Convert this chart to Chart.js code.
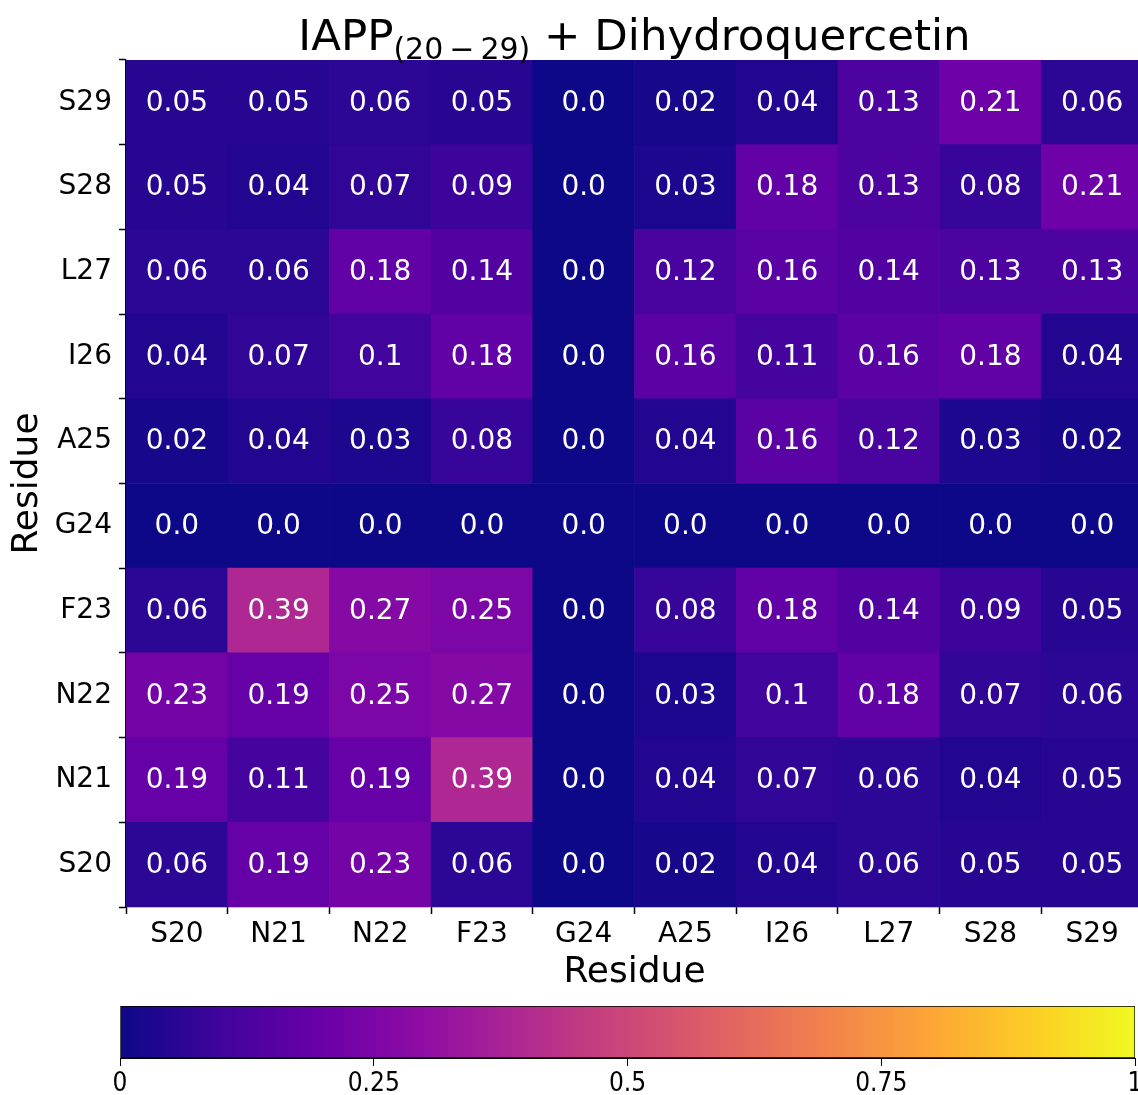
<!DOCTYPE html>
<html>
<head>
<meta charset="utf-8">
<script src="https://cdn.jsdelivr.net/npm/chart.js@4.4.0/dist/chart.umd.min.js"></script>
<style>
  html, body { margin: 0; padding: 0; background: #fff; overflow: hidden; }
  #wrap { position: relative; width: 1138px; height: 1095px; overflow: hidden; }
  #heatmap { position: absolute; left: 0; top: 0; }
  #colorbar { position: absolute; left: 0; top: 990px; }
</style>
</head>
<body>
<div id="wrap">
  <canvas id="heatmap" width="1150" height="1000"></canvas>
  <canvas id="colorbar" width="1150" height="105"></canvas>
</div>
<script>
// residues along both axes (bottom -> top on y)
const residues = ["S20", "N21", "N22", "F23", "G24", "A25", "I26", "L27", "S28", "S29"];

// one row per residue on the y axis, columns follow `residues`
const rowS20 = [0.06, 0.19, 0.23, 0.06, 0.0, 0.02, 0.04, 0.06, 0.05, 0.05];
const rowN21 = [0.19, 0.11, 0.19, 0.39, 0.0, 0.04, 0.07, 0.06, 0.04, 0.05];
const rowN22 = [0.23, 0.19, 0.25, 0.27, 0.0, 0.03, 0.1, 0.18, 0.07, 0.06];
const rowF23 = [0.06, 0.39, 0.27, 0.25, 0.0, 0.08, 0.18, 0.14, 0.09, 0.05];
const rowG24 = [0.0, 0.0, 0.0, 0.0, 0.0, 0.0, 0.0, 0.0, 0.0, 0.0];
const rowA25 = [0.02, 0.04, 0.03, 0.08, 0.0, 0.04, 0.16, 0.12, 0.03, 0.02];
const rowI26 = [0.04, 0.07, 0.1, 0.18, 0.0, 0.16, 0.11, 0.16, 0.18, 0.04];
const rowL27 = [0.06, 0.06, 0.18, 0.14, 0.0, 0.12, 0.16, 0.14, 0.13, 0.13];
const rowS28 = [0.05, 0.04, 0.07, 0.09, 0.0, 0.03, 0.18, 0.13, 0.08, 0.21];
const rowS29 = [0.05, 0.05, 0.06, 0.05, 0.0, 0.02, 0.04, 0.13, 0.21, 0.06];
const rows = [rowS20, rowN21, rowN22, rowF23, rowG24, rowA25, rowI26, rowL27, rowS28, rowS29];

const colorbarTicks = [0, 0.25, 0.5, 0.75, 1];

const titleMain = "IAPP";
const titleSub = "(20\u2009\u2212\u200929)";
const titleRest = " + Dihydroquercetin";

// matplotlib "plasma" sampled every 0.1
const plasma = ["#0d0887", "#41049d", "#6a00a8", "#8f0da4", "#b12a90", "#cc4778",
  "#e16462", "#f2844b", "#fca636", "#fcce25", "#f0f921"];

function hexToRgb(h) {
  return [parseInt(h.slice(1, 3), 16), parseInt(h.slice(3, 5), 16), parseInt(h.slice(5, 7), 16)];
}

function plasmaColor(v) {
  const t = Math.min(Math.max(v, 0), 1) * (plasma.length - 1);
  const i = Math.min(Math.floor(t), plasma.length - 2);
  const f = t - i;
  const a = hexToRgb(plasma[i]), b = hexToRgb(plasma[i + 1]);
  const c = a.map((x, k) => Math.round(x + (b[k] - x) * f));
  return `rgb(${c[0]},${c[1]},${c[2]})`;
}

function fmt(v) {
  return Number.isInteger(v) ? v.toFixed(1) : String(v);
}

const FONT = '"DejaVu Sans", Verdana, sans-serif';

// cell values written in the middle of each cell
const cellLabels = {
  id: "cellLabels",
  afterDatasetsDraw(chart) {
    const { ctx } = chart;
    const xs = chart.scales.x, ys = chart.scales.y;
    ctx.save();
    ctx.fillStyle = "#ffffff";
    ctx.font = "28px " + FONT;
    ctx.textAlign = "center";
    ctx.textBaseline = "middle";
    rows.forEach((row, r) => {
      row.forEach((v, c) => {
        ctx.fillText(fmt(v), xs.getPixelForValue(c), ys.getPixelForValue(r + 0.5) + 1);
      });
    });
    ctx.restore();
  }
};

// title with a subscript, like matplotlib mathtext
const mathTitle = {
  id: "mathTitle",
  afterDraw(chart) {
    const { ctx, chartArea } = chart;
    const big = "43.5px " + FONT, small = "30px " + FONT;
    const parts = [[titleMain, big, 0], [titleSub, small, 9], [titleRest, big, 0]];
    ctx.save();
    let total = 0;
    parts.forEach(p => { ctx.font = p[1]; total += ctx.measureText(p[0]).width; });
    let x = (chartArea.left + chartArea.right) / 2 - total / 2;
    ctx.fillStyle = "#000";
    ctx.textAlign = "left";
    ctx.textBaseline = "alphabetic";
    parts.forEach(p => {
      ctx.font = p[1];
      ctx.fillText(p[0], x, 50 + p[2]);
      x += ctx.measureText(p[0]).width;
    });
    ctx.restore();
  }
};

const datasets = rows.map((row, r) => ({
  data: row.map(() => [r, r + 1]),
  backgroundColor: row.map(v => plasmaColor(v)),
  borderWidth: 0,
  grouped: false,
  barPercentage: 1,
  categoryPercentage: 1
}));

new Chart(document.getElementById("heatmap").getContext("2d"), {
  type: "bar",
  data: { labels: residues, datasets: datasets },
  options: {
    responsive: false,
    animation: false,
    layout: { padding: { top: 60, left: 0, right: 7, bottom: 0 } },
    plugins: { legend: { display: false }, tooltip: { enabled: false } },
    scales: {
      x: {
        type: "category",
        offset: true,
        grid: { offset: true, drawOnChartArea: false, drawTicks: true, tickLength: 7, tickWidth: 1.5, tickColor: "#000" },
        border: { display: true, color: "#000", width: 1.2 },
        ticks: { color: "#000", font: { family: FONT, size: 28 }, padding: 4, maxRotation: 0, autoSkip: false },
        title: { display: true, text: "Residue", color: "#000", font: { family: FONT, size: 36 }, padding: { top: 0, bottom: 6 } },
        afterFit: s => { s.height = 93; }
      },
      y: {
        display: false,
        min: 0,
        max: 10
      },
      yc: {
        type: "category",
        position: "left",
        labels: residues.slice().reverse(),
        offset: true,
        grid: { offset: true, drawOnChartArea: false, drawTicks: true, tickLength: 7, tickWidth: 1.5, tickColor: "#000" },
        border: { display: true, color: "#000", width: 1.2 },
        ticks: { color: "#000", font: { family: FONT, size: 28 }, padding: 7, autoSkip: false },
        title: { display: true, text: "Residue", color: "#000", font: { family: FONT, size: 36 }, padding: { top: 6, bottom: 0 } },
        afterFit: s => { s.width = 126; }
      }
    }
  },
  plugins: [cellLabels, mathTitle]
});

// horizontal colorbar below the heatmap
new Chart(document.getElementById("colorbar").getContext("2d"), {
  type: "bar",
  data: {
    labels: [""],
    datasets: [{
      data: [[colorbarTicks[0], colorbarTicks[colorbarTicks.length - 1]]],
      backgroundColor: ctx => {
        const area = ctx.chart.chartArea;
        if (!area) return plasma[0];
        const g = ctx.chart.ctx.createLinearGradient(area.left, 0, area.right, 0);
        plasma.forEach((c, i) => g.addColorStop(i / (plasma.length - 1), c));
        return g;
      },
      borderColor: "#000",
      borderWidth: 1,
      borderSkipped: false,
      barPercentage: 1,
      categoryPercentage: 1
    }]
  },
  options: {
    indexAxis: "y",
    responsive: false,
    animation: false,
    layout: { padding: { top: 16, left: 120, right: 15, bottom: 0 } },
    plugins: { legend: { display: false }, tooltip: { enabled: false } },
    scales: {
      y: { display: false },
      x: {
        min: 0,
        max: 1,
        afterBuildTicks: s => { s.ticks = colorbarTicks.map(v => ({ value: v })); },
        grid: { drawOnChartArea: false, drawTicks: true, tickLength: 8, tickColor: "#000" },
        border: { display: true, color: "#000", width: 1 },
        ticks: {
          color: "#000",
          font: { family: '"Liberation Sans Narrow", "DejaVu Sans Condensed", "Open Sans", sans-serif', size: 26 },
          padding: 3,
          maxRotation: 0,
          callback: v => String(v)
        },
        afterFit: s => { s.height = 37; }
      }
    }
  }
});
</script>
</body>
</html>
